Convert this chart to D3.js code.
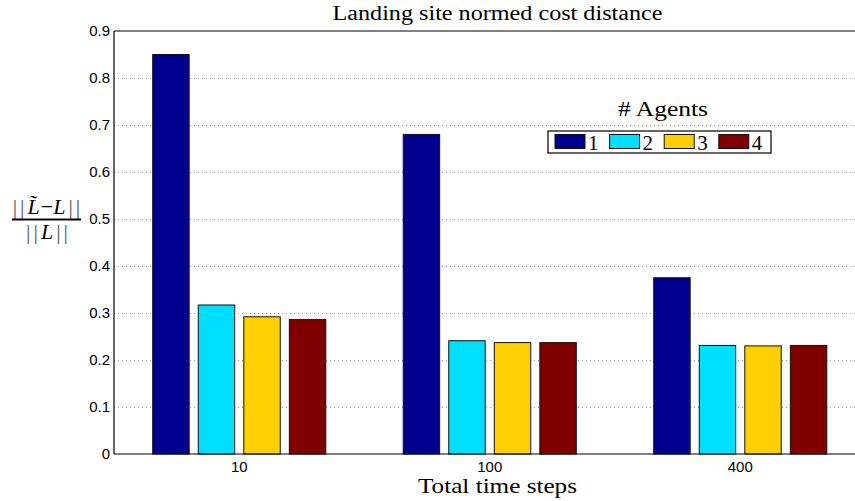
<!DOCTYPE html>
<html>
<head>
<meta charset="utf-8">
<script src="https://cdn.jsdelivr.net/npm/d3@7"></script>
<style>
  html, body { margin: 0; padding: 0; background: #fff; }
  svg { display: block; }
  .tick-label { font-family: "Liberation Sans", Arial, sans-serif; font-size: 15px; fill: #000; }
  .serif { font-family: "Liberation Serif", "Times New Roman", serif; fill: #000; }
</style>
</head>
<body>
<svg id="chart" width="855" height="501"></svg>
<script>
// Total time steps (groups) and number of agents (series)
const categories = ["10", "100", "400"];
const agents = ["1", "2", "3", "4"];

// Normed cost distance per group, one array per agent count
const agent1 = [0.850, 0.680, 0.375];
const agent2 = [0.317, 0.241, 0.231];
const agent3 = [0.292, 0.237, 0.230];
const agent4 = [0.286, 0.237, 0.231];
const seriesValues = [agent1, agent2, agent3, agent4];

const yTicks = [0, 0.1, 0.2, 0.3, 0.4, 0.5, 0.6, 0.7, 0.8, 0.9];
const colors = ["#00008f", "#00dfff", "#ffcf00", "#800000"];

(function draw() {
  const svg = d3.select("#chart");
  const W = 855;
  const plotLeft = 114, plotTop = 31, plotBottom = 454;
  const axisMid = 497.5; // horizontal centre of the axes box (it runs past the window edge)

  // groups sit at 1, 2, 3 in axis units
  const x = d3.scaleLinear().domain([0.5, 3.5]).range([plotLeft, 865.5]);
  const y = d3.scaleLinear().domain([0, 0.9]).range([plotBottom, plotTop]);

  const pitch = 0.1818;   // distance between bars within a group (axis units)
  const barW = 0.1455;    // bar width (axis units)

  // dotted horizontal grid
  svg.append("g")
    .selectAll("line")
    .data(yTicks.filter(t => t > 0 && t < 0.9))
    .join("line")
    .attr("x1", plotLeft).attr("x2", W)
    .attr("y1", d => Math.round(y(d)) + 0.5).attr("y2", d => Math.round(y(d)) + 0.5)
    .attr("stroke", "#9a9a9a")
    .attr("stroke-width", 1)
    .attr("stroke-dasharray", "1,3");

  // bars
  const flat = [];
  seriesValues.forEach((vals, j) => {
    vals.forEach((v, i) => flat.push({ group: i + 1, j, v }));
  });
  svg.append("g")
    .selectAll("rect")
    .data(flat)
    .join("rect")
    .attr("x", d => x(d.group + (d.j - 1.5) * pitch - barW / 2))
    .attr("width", d => x(d.group + barW / 2) - x(d.group - barW / 2))
    .attr("y", d => y(d.v))
    .attr("height", d => y(0) - y(d.v))
    .attr("fill", d => colors[d.j])
    .attr("stroke", "#111")
    .attr("stroke-width", 1);

  // axes frame: left, bottom, top
  const frame = svg.append("g").attr("stroke", "#000").attr("stroke-width", 1.2).attr("fill", "none");
  frame.append("line").attr("x1", plotLeft).attr("x2", plotLeft).attr("y1", plotTop).attr("y2", plotBottom);
  frame.append("line").attr("x1", plotLeft).attr("x2", W).attr("y1", plotBottom).attr("y2", plotBottom);
  frame.append("line").attr("x1", plotLeft).attr("x2", W).attr("y1", plotTop).attr("y2", plotTop);

  // y tick labels
  svg.append("g")
    .selectAll("text")
    .data(yTicks)
    .join("text")
    .attr("class", "tick-label")
    .attr("x", plotLeft - 4)
    .attr("y", d => y(d))
    .attr("dy", "0.36em")
    .attr("text-anchor", "end")
    .text(d => d === 0 ? "0" : d3.format(".1f")(d));

  // x tick labels
  svg.append("g")
    .selectAll("text")
    .data(categories)
    .join("text")
    .attr("class", "tick-label")
    .attr("x", (d, i) => x(i + 1))
    .attr("y", 471.5)
    .attr("text-anchor", "middle")
    .text(d => d);

  // title and x-axis label, both centred on the axes box
  svg.append("text").attr("class", "serif")
    .attr("x", axisMid).attr("y", 20).attr("text-anchor", "middle")
    .attr("font-size", 20)
    .attr("textLength", 330).attr("lengthAdjust", "spacingAndGlyphs")
    .text("Landing site normed cost distance");

  svg.append("text").attr("class", "serif")
    .attr("x", axisMid).attr("y", 493).attr("text-anchor", "middle")
    .attr("font-size", 21)
    .attr("textLength", 159).attr("lengthAdjust", "spacingAndGlyphs")
    .text("Total time steps");

  // y-axis label: ||L̃ − L|| / ||L||
  const yl = svg.append("g").attr("class", "serif").attr("font-size", 22).attr("opacity", 0.995);
  const num = yl.append("text").attr("x", 48).attr("y", 214).attr("text-anchor", "middle");
  num.append("tspan").attr("fill", "#555").attr("letter-spacing", 3).text("||");
  num.append("tspan").attr("font-style", "italic").text("L\u0303");
  num.append("tspan").attr("dx", 1).text("\u2212");
  num.append("tspan").attr("font-style", "italic").text("L");
  num.append("tspan").attr("fill", "#555").attr("dx", 3).attr("letter-spacing", 3).text("||");
  const den = yl.append("text").attr("x", 48.5).attr("y", 239).attr("text-anchor", "middle");
  den.append("tspan").attr("fill", "#555").attr("letter-spacing", 3).text("||");
  den.append("tspan").attr("font-style", "italic").text("L");
  den.append("tspan").attr("fill", "#555").attr("dx", 3).attr("letter-spacing", 3).text("||");
  yl.append("line").attr("x1", 12).attr("x2", 81).attr("y1", 219.5).attr("y2", 219.5)
    .attr("stroke", "#000").attr("stroke-width", 1.8);

  // legend
  const legX = 548, legY = 131, legW = 223, legH = 22;
  svg.append("text").attr("class", "serif")
    .attr("x", 663).attr("y", 116).attr("text-anchor", "middle")
    .attr("font-size", 21)
    .attr("textLength", 90).attr("lengthAdjust", "spacingAndGlyphs")
    .text("# Agents");
  const leg = svg.append("g");
  leg.append("rect").attr("x", legX).attr("y", legY).attr("width", legW).attr("height", legH)
    .attr("fill", "#fff").attr("stroke", "#000").attr("stroke-width", 1.2);
  const item = leg.selectAll("g.item").data(agents).join("g").attr("class", "item")
    .attr("transform", (d, i) => `translate(${legX + 7 + i * 54.6},${legY + 3.5})`);
  item.append("rect").attr("width", 30).attr("height", 14)
    .attr("fill", (d, i) => colors[i]).attr("stroke", "#111").attr("stroke-width", 1);
  item.append("text").attr("class", "serif").attr("x", 33).attr("y", 15)
    .attr("font-size", 21).text(d => d);
})();
</script>
</body>
</html>
